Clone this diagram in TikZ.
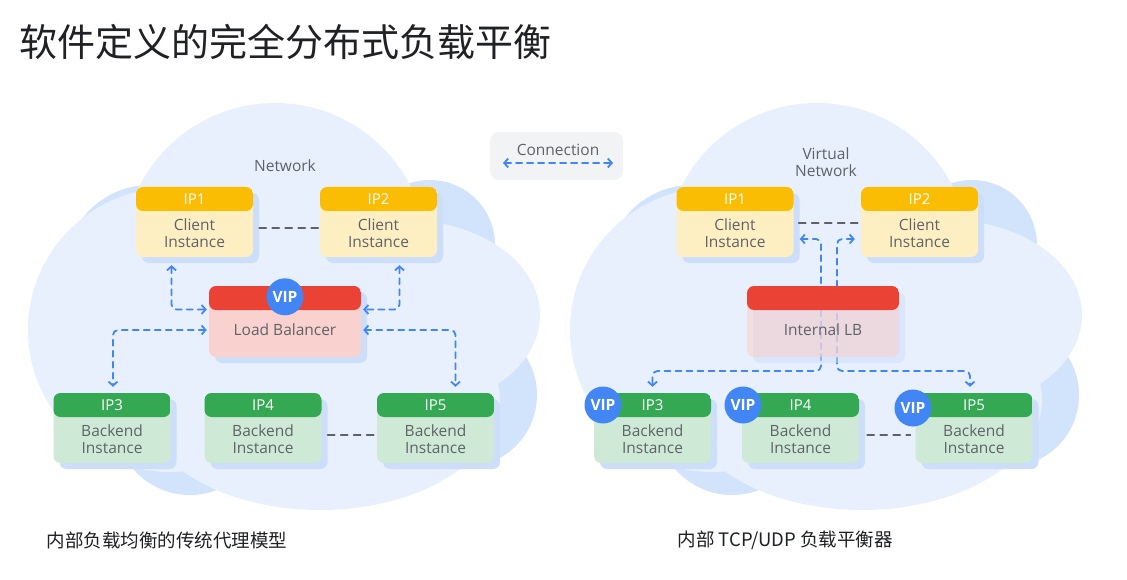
\documentclass[tikz,border=0pt]{standalone}
\usepackage{fontspec}
\setmainfont{Open Sans}
\newfontfamily\cjk{Noto Sans CJK SC}
\usetikzlibrary{arrows.meta}
\usetikzlibrary{positioning}
\usetikzlibrary{shadows}
\definecolor{cloudlight}{HTML}{E8F0FE}
\definecolor{clouddark}{HTML}{D2E3FC}
\definecolor{boxshade}{HTML}{CCDEFA}
\definecolor{yhead}{HTML}{FBBC04}
\definecolor{ybody}{HTML}{FEEFC3}
\definecolor{rhead}{HTML}{EA4335}
\definecolor{rbody}{HTML}{F9D1CE}
\definecolor{ghead}{HTML}{34A853}
\definecolor{gbody}{HTML}{CEEAD6}
\definecolor{gblue}{HTML}{4285F4}
\definecolor{ggray}{HTML}{5F6368}
\definecolor{titlegray}{HTML}{202124}
\definecolor{legendbg}{HTML}{F1F3F4}

\tikzset{
  shade opacity/.initial=1,
  box/.style 2 args={rounded corners=7pt, minimum width=117pt, minimum height=70pt, inner sep=0pt, fill=#2,
    general shadow={fill=boxshade, fill opacity=\pgfkeysvalueof{/tikz/shade opacity}, shadow xshift=6pt, shadow yshift=-6pt},
    path picture={\fill[#1] (path picture bounding box.north west) rectangle ([yshift=-24pt]path picture bounding box.north east);}},
  hdr/.style={anchor=center, yshift=-12pt, text=white, font=\fontsize{15}{16}\selectfont},
  body/.style={anchor=center, yshift=-46pt, text=ggray, text opacity=1, align=center, font=\fontsize{15.5}{17}\selectfont},
  client/.style={box={yhead}{ybody}, label={[hdr]90:#1}, label={[body]90:{Client\\Instance}}},
  backend/.style={box={ghead}{gbody}, label={[hdr]90:#1}, label={[body]90:{Backend\\Instance}}},
  balancer/.style={box={rhead,fill opacity=1}{rbody}, minimum width=152pt, minimum height=71pt, label={[body, yshift=2pt]90:#1}},
  vip/.style={circle, fill=gblue, minimum size=37pt, inner sep=0pt, text=white, font=\fontsize{15.5}{15}\selectfont\bfseries},
  conn/.style={gblue, line width=1.8pt, dash pattern=on 6pt off 5pt, rounded corners=5pt, {Straight Barb[length=4pt, width=9pt]}-{Straight Barb[length=4pt, width=9pt]}},
  peer/.style={ggray, line width=1.8pt, dash pattern=on 7pt off 6pt},
  txt/.style={text=ggray, align=center, font=\fontsize{15.5}{17}\selectfont},
}

\begin{document}
\begin{tikzpicture}[line cap=round, line join=round, x=1pt, y=-1pt]
\fill[white] (0,0) rectangle (1127,580);
\useasboundingbox (0,0) rectangle (1127,580);
% clouds
\foreach \dx in {0,542} {
\begin{scope}[xshift=\dx]
\fill[clouddark] (150,270) circle (85);
\fill[clouddark] (430,245) circle (65);
\fill[clouddark] (190,420) circle (75);
\fill[clouddark] (465,395) circle (72);
\fill[cloudlight] (275,255) circle (152);
\fill[cloudlight] (170,330) circle (142);
\fill[cloudlight] (405,315) ellipse (135 and 95);
\fill[cloudlight] (320,400) ellipse (180 and 110);
\end{scope}
}
\node[anchor=west, text=titlegray, font=\cjk\fontsize{38}{40}\selectfont] (title) at (16,42) {软件定义的完全分布式负载平衡};
% legend
\node[fill=legendbg, rounded corners=9pt, minimum width=133pt, minimum height=48pt] (legend) at (556.5,156) {};
\node[txt] (conntxt) at (558,150) {Connection};
\coordinate (cl) at (503,163);
\coordinate (cr) at (613,163);
\draw[conn] (cl) -- (cr);
% left: proxy model
\node[txt] (netl) at (285,166) {Network};
\node[client=IP1] (ip1l) at (194.5,222) {};
\node[client=IP2] (ip2l) at (378.5,222) {};
\node[balancer={Load Balancer}] (lbl) at (285,321.5) {};
\node[vip] (vipl) at ([yshift=-11pt]lbl.north) {VIP};
\node[backend=IP3] (ip3l) at (112,428) {};
\node[backend=IP4] (ip4l) at (263,428) {};
\node[backend=IP5] (ip5l) at (435.5,428) {};
\draw[peer] ([xshift=6pt,yshift=-6pt]ip1l.east) -- ([yshift=-6pt]ip2l.west);
\draw[peer] ([xshift=6pt,yshift=-7pt]ip4l.east) -- ([xshift=-2pt,yshift=-7pt]ip5l.west);
\draw[conn] ([xshift=-23pt,yshift=-8pt]ip1l.south) |- ([xshift=-2pt,yshift=12pt]lbl.west);
\draw[conn] ([xshift=21pt,yshift=-8pt]ip2l.south) |- ([xshift=2pt,yshift=12pt]lbl.east);
\draw[conn] ([xshift=-2pt,yshift=-8.5pt]lbl.west) -| ([xshift=1pt,yshift=6pt]ip3l.north);
\draw[conn] ([xshift=2pt,yshift=-8.5pt]lbl.east) -| ([xshift=20pt,yshift=6pt]ip5l.north);
% right: internal TCP/UDP
\node[txt] (netr) at (826,162) {Virtual\\Network};
\node[client=IP1] (ip1r) at (735,222) {};
\node[client=IP2] (ip2r) at (919.5,222) {};
\node[backend=IP3] (ip3r) at (652.5,428) {};
\node[backend=IP4] (ip4r) at (800.5,428) {};
\node[backend=IP5] (ip5r) at (974,428) {};
\node[vip] (vip3) at (603,405) {VIP};
\node[vip] (vip4) at (743,405) {VIP};
\node[vip] (vip5) at (913,408) {VIP};
\coordinate (busl) at (821,371);
\coordinate (busr) at (837,371);
\draw[peer] ([xshift=5pt,yshift=-1pt]ip1r.east) -- ([yshift=-1pt]ip2r.west);
\draw[peer] ([xshift=8pt,yshift=-7pt]ip4r.east) -- ([xshift=-5pt,yshift=-7pt]ip5r.west);
\draw[conn] ([xshift=6pt,yshift=-17pt]ip1r.east) -| (busl) -| ([yshift=6pt]ip3r.north);
\draw[conn] ([xshift=-6pt,yshift=-17pt]ip2r.west) -| (busr) -| ([xshift=-4pt,yshift=6pt]ip5r.north);
\node[balancer={Internal LB}, shade opacity=0.5, fill opacity=0.6] (lbr) at (823,321.5) {};
% captions
\node[anchor=west, text=titlegray, font=\cjk\fontsize{18.5}{20}\selectfont] (capl) at (43,540) {内部负载均衡的传统代理模型};
\node[anchor=west, text=titlegray, font=\cjk\fontsize{18.5}{20}\selectfont] (capr) at (674,540) {内部 TCP/UDP 负载平衡器};
\end{tikzpicture}
\end{document}
